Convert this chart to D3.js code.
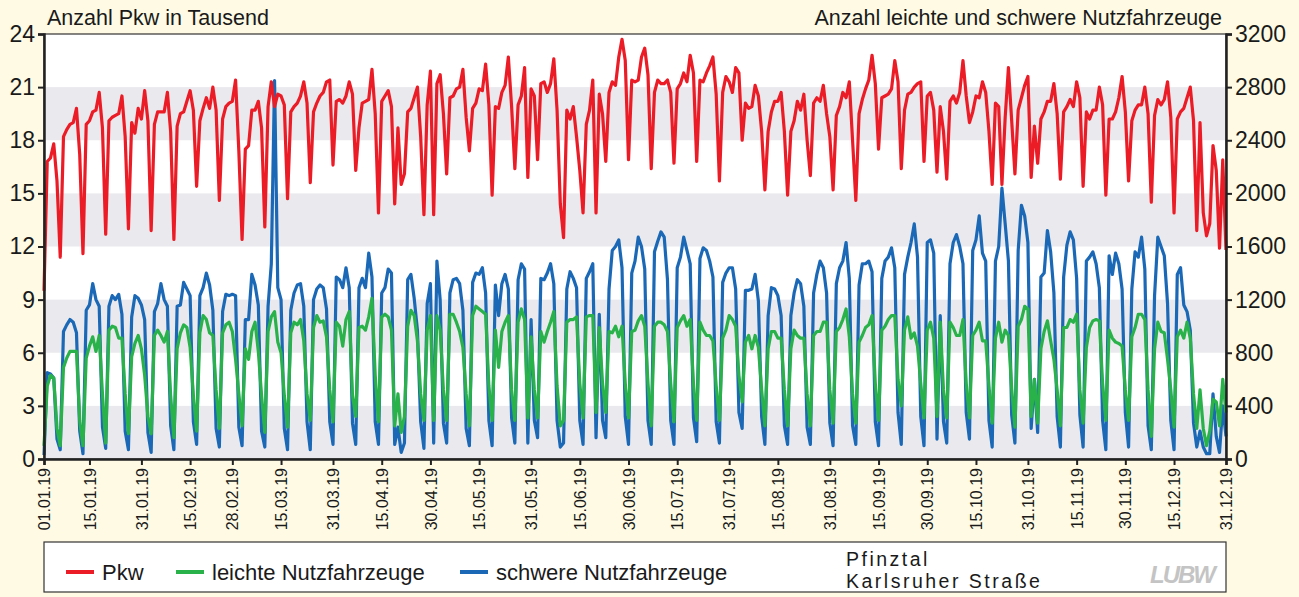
<!DOCTYPE html>
<html>
<head>
<meta charset="utf-8">
<script src="https://cdn.jsdelivr.net/npm/d3@7"></script>
<style>
  body { margin: 0; background: #fefae4; }
  svg { display: block; font-family: "Liberation Sans", Arial, sans-serif; }
</style>
</head>
<body>
<svg id="chart" width="1299" height="597"></svg>
<script>
// Tageswerte 2019, ab 01.01.19 (Di)
// Pkw in Tausend
const pkw = [
  9.5, 16.8, 17.0, 17.8, 15.7, 11.4, 18.2,
  18.6, 18.9, 19.0, 19.8, 17.2, 11.6, 18.9,
  19.1, 19.6, 19.7, 20.7, 18.7, 12.7, 19.1,
  19.3, 19.4, 19.5, 20.5, 18.2, 13.0, 19.0,
  18.4, 19.8, 19.2, 20.8, 19.1, 12.9, 18.9,
  19.6, 19.6, 19.6, 20.7, 18.5, 12.4, 18.8,
  19.5, 19.6, 20.2, 20.8, 19.7, 15.4, 19.1,
  19.8, 20.4, 19.8, 21.0, 19.7, 14.6, 19.2,
  19.9, 20.1, 20.2, 21.4, 17.4, 12.4, 17.5,
  17.7, 19.7, 19.7, 20.2, 18.7, 13.1, 19.9,
  21.3, 19.9, 20.6, 20.5, 20.0, 14.7, 19.6,
  19.9, 20.1, 20.5, 21.3, 20.1, 15.6, 19.6,
  20.1, 20.5, 20.7, 21.3, 21.4, 16.6, 20.2,
  20.3, 20.1, 20.5, 21.3, 20.6, 16.3, 18.7,
  20.1, 20.2, 20.3, 22.0, 19.5, 13.9, 20.2,
  20.5, 20.8, 19.9, 14.4, 18.7, 15.5, 16.1,
  19.6, 19.8, 20.4, 21.0, 18.2, 13.8, 20.0,
  21.9, 13.8, 21.2, 21.7, 19.5, 16.1, 20.4,
  20.5, 20.9, 21.0, 22.0, 19.3, 17.4, 19.8,
  20.1, 20.9, 20.8, 22.3, 20.0, 14.9, 19.9,
  19.8, 20.7, 21.1, 22.7, 19.9, 16.4, 20.0,
  20.5, 22.1, 15.9, 20.9, 20.5, 16.9, 21.2,
  21.3, 20.7, 21.2, 22.6, 19.7, 14.4, 12.5,
  19.7, 19.2, 19.9, 18.2, 16.3, 13.9, 18.9,
  19.7, 21.4, 13.9, 20.6, 19.5, 16.8, 20.7,
  21.3, 21.1, 22.7, 23.7, 22.5, 16.9, 21.4,
  21.3, 21.4, 22.7, 23.2, 21.7, 16.4, 20.7,
  21.4, 21.2, 21.2, 21.4, 20.7, 16.7, 20.9,
  21.2, 21.8, 21.3, 22.8, 21.8, 16.8, 21.4,
  21.3, 21.8, 22.2, 22.7, 20.6, 15.7, 20.7,
  21.6, 21.3, 20.7, 22.1, 21.8, 18.0, 20.1,
  19.8, 19.9, 21.1, 20.5, 18.5, 15.2, 18.5,
  19.6, 20.2, 20.2, 20.7, 18.5, 14.9, 18.5,
  19.1, 20.2, 19.7, 20.6, 18.0, 16.0, 20.1,
  20.4, 20.2, 21.1, 19.5, 18.2, 15.2, 19.4,
  19.9, 20.7, 20.4, 21.3, 18.0, 14.6, 19.5,
  20.3, 20.9, 21.4, 22.8, 21.2, 17.5, 20.4,
  20.5, 20.6, 20.9, 22.5, 21.3, 16.4, 19.7,
  20.6, 20.7, 21.0, 21.2, 21.3, 16.8, 20.5,
  20.7, 19.7, 16.2, 19.9, 18.5, 15.8, 20.2,
  20.5, 20.1, 20.7, 22.5, 20.5, 19.0, 19.6,
  20.5, 20.4, 21.3, 20.7, 18.5, 15.5, 20.1,
  19.9, 15.5, 19.3, 22.1, 19.1, 16.1, 19.7,
  20.4, 21.1, 21.6, 15.9, 18.8, 16.7, 19.2,
  19.6, 20.2, 20.2, 21.2, 19.5, 15.8, 19.6,
  19.9, 20.3, 19.9, 21.3, 20.4, 15.4, 19.6,
  19.2, 19.7, 19.7, 21.0, 20.0, 14.9, 19.2,
  19.2, 19.6, 20.4, 21.6, 19.6, 15.7, 19.1,
  19.7, 20.0, 20.0, 21.0, 19.5, 14.5, 19.4,
  20.3, 20.0, 20.3, 21.3, 19.3, 13.9, 19.2,
  19.6, 19.8, 20.4, 21.0, 19.1, 12.9, 19.0,
  13.9, 12.6, 13.3, 17.7, 16.3, 11.9, 16.9,
  11.8
];

// leichte Nutzfahrzeuge (Anzahl)
const leichte = [
  100, 550, 630, 610, 230, 100, 690,
  760, 810, 810, 810, 290, 100, 760,
  850, 920, 810, 930, 490, 120, 970,
  1000, 990, 910, 910, 490, 190, 770,
  870, 930, 830, 630, 320, 190, 930,
  970, 930, 880, 960, 480, 160, 830,
  950, 1010, 990, 840, 480, 210, 950,
  1080, 1050, 950, 930, 520, 230, 950,
  1010, 1030, 960, 750, 490, 250, 830,
  750, 960, 1030, 810, 480, 200, 960,
  1070, 1110, 880, 800, 480, 240, 950,
  1030, 1010, 1050, 890, 490, 290, 990,
  1080, 1030, 1040, 920, 520, 280, 1030,
  1000, 850, 1050, 1110, 480, 320, 990,
  1000, 970, 1070, 1210, 630, 280, 1070,
  1090, 1070, 970, 250, 490, 200, 320,
  1000, 1120, 1080, 890, 490, 290, 970,
  1080, 290, 1080, 970, 520, 290, 1090,
  1090, 1030, 960, 840, 490, 250, 1080,
  1150, 1130, 1110, 1090, 550, 290, 970,
  690, 960, 1030, 1080, 520, 290, 1030,
  1130, 1050, 310, 920, 520, 310, 960,
  880, 960, 1030, 1110, 550, 250, 290,
  1030, 1050, 1050, 1070, 570, 310, 1070,
  1080, 1080, 350, 990, 570, 350, 960,
  950, 1000, 920, 1000, 570, 310, 960,
  970, 1040, 1080, 1000, 570, 250, 1000,
  1030, 1030, 1010, 960, 570, 280, 990,
  1040, 1080, 1000, 1050, 570, 290, 1030,
  970, 930, 930, 890, 550, 290, 910,
  970, 1080, 1050, 1000, 630, 430, 880,
  930, 830, 930, 840, 520, 250, 830,
  960, 960, 910, 910, 520, 250, 830,
  970, 930, 910, 910, 490, 250, 930,
  960, 960, 1030, 1030, 520, 270, 960,
  990, 1050, 1130, 920, 490, 270, 880,
  930, 990, 1010, 1080, 570, 290, 970,
  1000, 1050, 1080, 1080, 600, 400, 970,
  1070, 910, 950, 850, 570, 310, 970,
  1030, 910, 320, 1030, 520, 310, 1030,
  990, 930, 930, 1050, 570, 310, 930,
  970, 1030, 890, 890, 550, 270, 910,
  1030, 880, 970, 930, 530, 240, 1000,
  1050, 1150, 1130, 320, 600, 270, 830,
  960, 1040, 890, 750, 520, 250, 990,
  990, 1050, 1030, 1090, 520, 270, 840,
  990, 1040, 1050, 1040, 570, 290, 970,
  910, 880, 870, 850, 520, 290, 920,
  990, 1090, 1090, 1050, 520, 170, 830,
  1030, 960, 950, 750, 520, 240, 920,
  970, 910, 1030, 910, 490, 230, 520,
  230, 100, 210, 450, 430, 250, 600,
  350
];

// schwere Nutzfahrzeuge (Anzahl)
const schwere = [
  30, 650, 640, 610, 150, 70, 960,
  1010, 1050, 1030, 950, 210, 40, 1120,
  1160, 1320, 1200, 1150, 240, 80, 1150,
  1230, 1200, 1240, 1090, 210, 70, 1070,
  1230, 1210, 1160, 1050, 200, 50, 1110,
  1170, 1320, 1200, 1150, 250, 70, 1150,
  1160, 1330, 1280, 1230, 280, 110, 1230,
  1290, 1400, 1310, 1120, 230, 90, 1110,
  1240, 1230, 1240, 1230, 240, 100, 1050,
  1050, 1390, 1310, 1160, 210, 90, 1150,
  1470, 2850, 1290, 1200, 230, 70, 1120,
  1250, 1310, 1320, 1150, 280, 70, 1200,
  1280, 1310, 1290, 1130, 280, 110, 1370,
  1350, 1290, 1440, 1290, 270, 110, 1290,
  1360, 1290, 1550, 1370, 280, 110, 1250,
  1290, 1430, 1400, 110, 240, 50, 120,
  1350, 1390, 1210, 970, 280, 80, 1170,
  1320, 120, 1490, 1200, 270, 120, 1250,
  1350, 1360, 1320, 1120, 230, 100, 1330,
  1400, 1390, 1440, 1250, 290, 100, 1310,
  1080, 1320, 1390, 1280, 310, 120, 1350,
  1470, 1430, 120, 1050, 290, 160, 1360,
  1350, 1400, 1470, 1320, 290, 90, 120,
  1280, 1410, 1360, 1290, 290, 110, 1360,
  1410, 1470, 160, 1090, 290, 160, 1280,
  1570, 1600, 1650, 1440, 320, 110, 1400,
  1490, 1670, 1600, 1430, 290, 110, 1560,
  1640, 1710, 1670, 1350, 290, 110, 1440,
  1520, 1670, 1570, 1470, 310, 130, 1510,
  1590, 1570, 1490, 1370, 280, 120, 1330,
  1400, 1440, 1440, 1280, 350, 230, 1270,
  1270, 1280, 1390, 1190, 320, 110, 1080,
  1290, 1280, 1230, 1080, 250, 110, 1080,
  1250, 1350, 1320, 1150, 240, 110, 1250,
  1390, 1490, 1440, 1250, 270, 100, 1320,
  1440, 1490, 1630, 1360, 250, 110, 1310,
  1470, 1470, 1490, 1410, 280, 100, 1360,
  1490, 1520, 1590, 1440, 350, 110, 1390,
  1520, 1630, 1770, 1520, 320, 100, 1630,
  1650, 1550, 150, 1080, 280, 120, 1470,
  1630, 1690, 1600, 1470, 350, 150, 1570,
  1650, 1830, 1550, 1490, 290, 90, 1490,
  1600, 2040, 1770, 1490, 330, 120, 1570,
  1910, 1830, 1630, 230, 600, 200, 1370,
  1400, 1720, 1560, 1250, 320, 90, 1370,
  1610, 1710, 1650, 1360, 330, 90, 1490,
  1520, 1560, 1470, 1290, 290, 70, 1530,
  1390, 1550, 1470, 1280, 350, 90, 1280,
  1560, 1520, 1670, 1430, 250, 70, 1230,
  1670, 1600, 1530, 1170, 290, 70, 1390,
  1440, 1160, 1110, 970, 270, 90, 210,
  90, 40, 40, 490, 170, 50, 400,
  170
];

const dateTicks = ["01.01.19", "15.01.19", "31.01.19", "15.02.19", "28.02.19", "15.03.19",
  "31.03.19", "15.04.19", "30.04.19", "15.05.19", "31.05.19", "15.06.19", "30.06.19",
  "15.07.19", "31.07.19", "15.08.19", "31.08.19", "15.09.19", "30.09.19", "15.10.19",
  "31.10.19", "15.11.19", "30.11.19", "15.12.19", "31.12.19"];
const pkwTicks = [0, 3, 6, 9, 12, 15, 18, 21, 24];
const nfzTicks = [0, 400, 800, 1200, 1600, 2000, 2400, 2800, 3200];
const bands = [[0, 3], [6, 9], [12, 15], [18, 21]];

const svg = d3.select("#chart");
const plot = { left: 44, right: 1226, top: 34, bottom: 459 };

const parse = d3.timeParse("%d.%m.%y");
const fmt = d3.timeFormat("%d.%m.%y");
const start = new Date(2019, 0, 1);
const days = pkw.map((v, i) => d3.timeDay.offset(start, i));

const x = d3.scaleTime().domain([start, new Date(2019, 11, 31)]).range([plot.left, plot.right]);
const yL = d3.scaleLinear().domain([0, 24]).range([plot.bottom, plot.top]);
const yR = d3.scaleLinear().domain([0, 3200]).range([plot.bottom, plot.top]);

// Plotfläche mit grauen Bändern
svg.append("rect").attr("x", plot.left).attr("y", plot.top)
  .attr("width", plot.right - plot.left).attr("height", plot.bottom - plot.top).attr("fill", "#fff");
svg.selectAll("rect.band").data(bands).enter().append("rect")
  .attr("class", "band")
  .attr("x", plot.left).attr("width", plot.right - plot.left)
  .attr("y", d => yL(d[1])).attr("height", d => yL(d[0]) - yL(d[1]))
  .attr("fill", "#eaeaee");

// Linien
const line = scale => d3.line().x((d, i) => x(days[i])).y(d => scale(d));
const series = [
  { data: schwere, scale: yR, color: "#1b69b6" },
  { data: leichte, scale: yR, color: "#29b24a" },
  { data: pkw, scale: yL, color: "#ec1c26" }
];
series.forEach(s => {
  svg.append("path").datum(s.data)
    .attr("fill", "none").attr("stroke", s.color)
    .attr("stroke-width", 3.2).attr("stroke-linejoin", "round")
    .attr("d", line(s.scale));
});

// Rahmen
svg.append("rect").attr("x", plot.left).attr("y", plot.top)
  .attr("width", plot.right - plot.left).attr("height", plot.bottom - plot.top)
  .attr("fill", "none").attr("stroke", "#333").attr("stroke-width", 1.2);

// Achsen
const gL = svg.append("g").attr("transform", `translate(${plot.left},0)`)
  .call(d3.axisLeft(yL).tickValues(pkwTicks).tickSize(6).tickPadding(3));
const gR = svg.append("g").attr("transform", `translate(${plot.right},0)`)
  .call(d3.axisRight(yR).tickValues(nfzTicks).tickFormat(d3.format("d")).tickSize(6).tickPadding(3));
const gX = svg.append("g").attr("transform", `translate(0,${plot.bottom})`)
  .call(d3.axisBottom(x).tickValues(dateTicks.map(parse)).tickFormat(fmt).tickSize(6));

[gL, gR, gX].forEach(g => {
  g.select(".domain").attr("stroke", "#222").attr("stroke-width", 2.5);
  g.selectAll(".tick line").attr("stroke", "#222").attr("stroke-width", 2);
  g.selectAll("text").attr("fill", "#1a1a1a").style("font-family", '"Liberation Sans", Arial, sans-serif');
});
gL.selectAll("text").style("font-size", "23px");
gR.selectAll("text").style("font-size", "23px");
gX.selectAll("text")
  .style("font-size", "16px")
  .attr("transform", "rotate(-90)")
  .attr("text-anchor", "end")
  .attr("x", -9).attr("y", 0).attr("dy", "0.35em");

// Titel
svg.append("text").attr("x", 47).attr("y", 25).attr("font-size", 21.5)
  .attr("fill", "#1a1a1a").text("Anzahl Pkw in Tausend");
svg.append("text").attr("x", 1222).attr("y", 25).attr("font-size", 21.5)
  .attr("text-anchor", "end").attr("fill", "#1a1a1a")
  .text("Anzahl leichte und schwere Nutzfahrzeuge");

// Legende
svg.append("rect").attr("x", plot.left).attr("y", 542).attr("width", plot.right - plot.left).attr("height", 50)
  .attr("fill", "#fff").attr("stroke", "#333").attr("stroke-width", 1.2);
const legend = [
  { label: "Pkw", color: "#ec1c26", x: 66 },
  { label: "leichte Nutzfahrzeuge", color: "#29b24a", x: 176 },
  { label: "schwere Nutzfahrzeuge", color: "#1b69b6", x: 460 }
];
legend.forEach(l => {
  svg.append("line").attr("x1", l.x).attr("x2", l.x + 28).attr("y1", 572).attr("y2", 572)
    .attr("stroke", l.color).attr("stroke-width", 4);
  svg.append("text").attr("x", l.x + 36).attr("y", 580).attr("font-size", 22)
    .attr("fill", "#1a1a1a").text(l.label);
});
svg.append("text").attr("x", 846).attr("y", 566).attr("font-size", 19.5)
  .attr("letter-spacing", 2.5).attr("fill", "#1a1a1a").text("Pfinztal");
svg.append("text").attr("x", 846).attr("y", 588).attr("font-size", 19.5)
  .attr("letter-spacing", 2.5).attr("fill", "#1a1a1a").text("Karlsruher Straße");
svg.append("text").attr("x", 1150).attr("y", 583).attr("font-size", 24)
  .attr("font-weight", "bold").attr("font-style", "italic").attr("letter-spacing", -2)
  .attr("fill", "#c4c4c4").text("LUBW");
</script>
</body>
</html>
